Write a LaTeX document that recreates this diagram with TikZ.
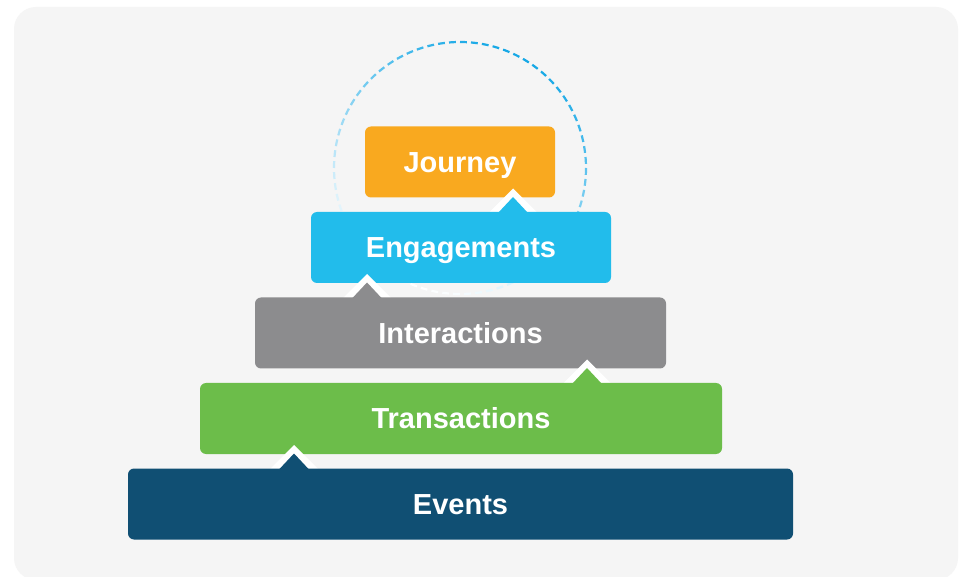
\documentclass[tikz,border=0pt]{standalone}
\usepackage{fontspec}
\setmainfont{Liberation Sans}
\usetikzlibrary{calc}
\definecolor{panelgray}{HTML}{F5F5F5}
\definecolor{cjourney}{HTML}{F9A91F}
\definecolor{cengage}{HTML}{22BCEB}
\definecolor{cinteract}{HTML}{8C8C8E}
\definecolor{ctrans}{HTML}{6CBD4A}
\definecolor{cevents}{HTML}{104F73}
\definecolor{cring}{HTML}{16A8E6}
\tikzset{
  tier/.style={rectangle, rounded corners=6pt, minimum height=71pt, inner sep=0pt, outer sep=0pt,
    text height=20.5pt, text depth=0pt,
    text=white, font=\bfseries\fontsize{29}{32}\selectfont},
  notchgap/.style={fill=white},
}
% #1 box name, #2 x offset of apex from box north, #3 colour
\newcommand\pyrnotch[3]{%
  \coordinate (#1tip) at ($(#1.north)+(#2,0)$);
  \fill[notchgap] ($(#1tip)+(-24,0.5)$) -- ($(#1tip)+(0,-23.5)$) -- ($(#1tip)+(24,0.5)$) -- cycle;
}
\newcommand\pyrtri[3]{%
  \fill[#3] ($(#1tip)+(-15,1)$) -- ($(#1tip)+(0,-15)$) -- ($(#1tip)+(15,1)$) -- cycle;
}
\begin{document}
\begin{tikzpicture}[x=1pt,y=-1pt]
\useasboundingbox (0,0) rectangle (959,577);
\clip (0,0) rectangle (959,577);
\fill[white] (0,0) rectangle (959,577);
\fill[panelgray, rounded corners=22pt] (14,7) rectangle (958,580);
% dashed fading ring
\coordinate (ringc) at (460,168);
\foreach \a in {0,5,...,355}{
  \pgfmathsetmacro{\tt}{(1+cos(\a+65))/2}
  \pgfmathsetmacro{\p}{100*pow(\tt,1.1)}
  \draw[color=cring!\p!white, line width=2.2pt]
    plot[domain=\a:\a+3.1, samples=5] ({460+126*cos(\x)},{168+126*sin(\x)});
}
% tiers
\node[tier, fill=cjourney, minimum width=190pt] (journey) at (460,162) {Journey};
\node[tier, minimum width=300pt] (engage) at (461,247.5) {};
\pyrnotch{engage}{52}{cengage}
\node[tier, fill=cengage, minimum width=300pt] (engage) at (461,247.5) {Engagements};
\pyrtri{engage}{52}{cengage}
\node[tier, minimum width=411pt] (interact) at (460.5,333) {};
\pyrnotch{interact}{-93.5}{cinteract}
\node[tier, fill=cinteract, minimum width=411pt] (interact) at (460.5,333) {Interactions};
\pyrtri{interact}{-93.5}{cinteract}
\node[tier, minimum width=522pt] (trans) at (461,418.5) {};
\pyrnotch{trans}{126}{ctrans}
\node[tier, fill=ctrans, minimum width=522pt] (trans) at (461,418.5) {Transactions};
\pyrtri{trans}{126}{ctrans}
\node[tier, minimum width=665pt] (events) at (460.5,504) {};
\pyrnotch{events}{-166.5}{cevents}
\node[tier, fill=cevents, minimum width=665pt] (events) at (460.5,504) {Events};
\pyrtri{events}{-166.5}{cevents}
\end{tikzpicture}
\end{document}
